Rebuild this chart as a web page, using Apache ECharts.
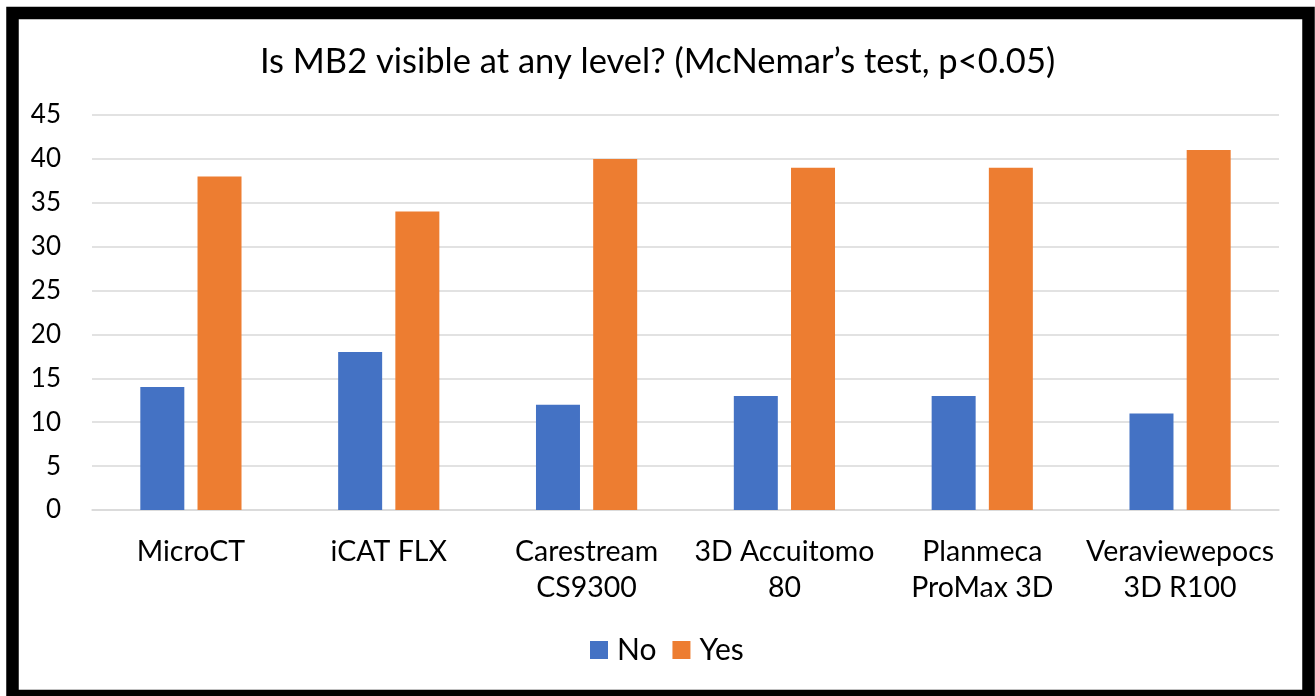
<!DOCTYPE html>
<html>
<head>
<meta charset="utf-8">
<script src="https://cdn.jsdelivr.net/npm/echarts@6/dist/echarts.min.js"></script>
<style>
html,body{margin:0;padding:0;background:#fff;}
#chart{width:1315px;height:696px;}
</style>
</head>
<body>
<div id="chart"></div>
<script>
const categories = ['MicroCT', 'iCAT FLX', 'Carestream\nCS9300', '3D Accuitomo\n80', 'Planmeca\nProMax 3D', 'Veraviewepocs\n3D R100'];
const noValues = [14, 18, 12, 13, 13, 11];
const yesValues = [38, 34, 40, 39, 39, 41];
const titleText = 'Is MB2 visible at any level? (McNemar\u2019s test, p<0.05)';

const FONT = 'Lato';
const chart = echarts.init(document.getElementById('chart'), null, {renderer: 'canvas'});
chart.setOption({
  backgroundColor: '#fff',
  animation: false,
  title: {
    text: titleText,
    left: 'center',
    top: 39,
    textStyle: {fontFamily: FONT, fontSize: 34.5, fontWeight: 'normal', color: '#000'}
  },
  legend: {
    data: ['No', 'Yes'],
    bottom: 26,
    left: 585,
    itemWidth: 18,
    itemHeight: 18,
    itemGap: 16,
    icon: 'rect',
    textStyle: {fontFamily: FONT, fontSize: 30, color: '#000', padding: [0, 0, 0, 4]}
  },
  grid: {left: 92, right: 36, top: 115, bottom: 186},
  xAxis: {
    type: 'category',
    data: categories,
    axisLine: {lineStyle: {color: '#d9d9d9', width: 1.5}},
    axisTick: {show: false},
    axisLabel: {fontFamily: FONT, fontSize: 28.5, color: '#000', margin: 24, lineHeight: 36, interval: 0}
  },
  yAxis: {
    type: 'value',
    min: 0, max: 45, interval: 5,
    axisLine: {show: false},
    axisTick: {show: false},
    splitLine: {lineStyle: {color: '#d9d9d9', width: 1.5}},
    axisLabel: {fontFamily: FONT, fontSize: 26, color: '#000', margin: 31}
  },
  series: [
    {name: 'No', type: 'bar', data: noValues, barWidth: 44, barGap: '30%',
     itemStyle: {color: '#4472C4'}},
    {name: 'Yes', type: 'bar', data: yesValues, barWidth: 44,
     itemStyle: {color: '#ED7D31'}}
  ],
  graphic: [{
    type: 'rect',
    shape: {x: 12.5, y: 13, width: 1296, height: 683},
    style: {fill: 'none', stroke: '#000', lineWidth: 12.5},
    silent: true
  }]
});
</script>
</body>
</html>
